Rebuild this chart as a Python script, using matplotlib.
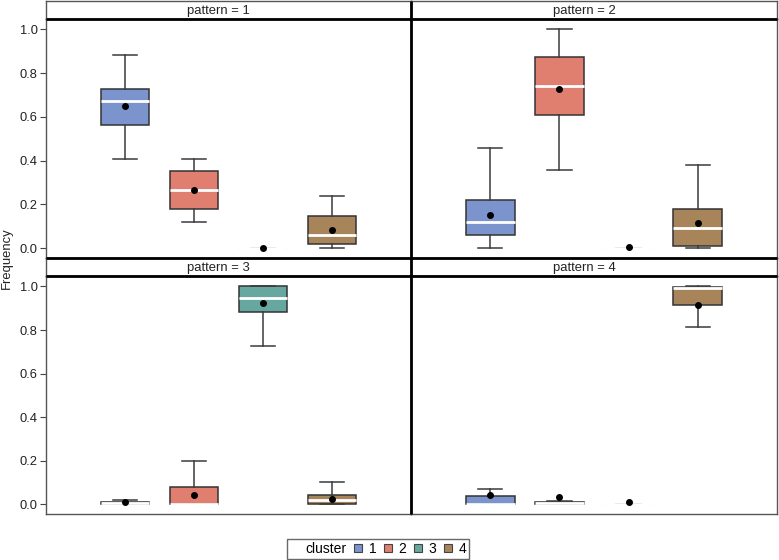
import matplotlib
matplotlib.use("Agg")
import matplotlib.pyplot as plt
from matplotlib.lines import Line2D

plt.rcParams['font.family'] = ['Liberation Sans', 'DejaVu Sans']

patterns = ["1", "2", "3", "4"]
clusters = ["1", "2", "3", "4"]

# per pattern (rows) x cluster (columns)
q1 = [
    [0.562, 0.179, 0.0, 0.018],
    [0.058, 0.611, 0.0, 0.009],
    [0.003, 0.002, 0.881, 0.0],
    [0.001, 0.0, 0.0, 0.917],
]
med = [
    [0.672, 0.265, 0.0, 0.060],
    [0.121, 0.741, 0.0, 0.093],
    [0.006, 0.003, 0.948, 0.021],
    [0.003, 0.004, 0.0, 0.995],
]
q3 = [
    [0.729, 0.354, 0.0, 0.147],
    [0.220, 0.873, 0.0, 0.179],
    [0.010, 0.079, 1.0, 0.043],
    [0.037, 0.010, 0.0, 0.998],
]
lo = [
    [0.409, 0.121, 0.0, 0.0],
    [0.0, 0.358, 0.0, 0.0],
    [0.0, 0.0, 0.728, 0.0],
    [0.0, 0.0, 0.0, 0.812],
]
hi = [
    [0.882, 0.409, 0.0, 0.239],
    [0.459, 1.0, 0.0, 0.381],
    [0.018, 0.200, 1.0, 0.102],
    [0.070, 0.016, 0.0, 1.0],
]
mean = [
    [0.652, 0.265, 0.0, 0.084],
    [0.153, 0.730, 0.005, 0.113],
    [0.008, 0.043, 0.925, 0.023],
    [0.044, 0.031, 0.012, 0.917],
]
yticks = [0.0, 0.2, 0.4, 0.6, 0.8, 1.0]

fills = ['#7c94cd', '#e07e6f', '#66a8a0', '#a8845a']
edge_c = '#333333'

W, H = 779, 560
fig = plt.figure(figsize=(W / 100, H / 100), dpi=100)

def fx(px):
    return px / W

def fy(py):
    return 1 - py / H

xl, xm, xr = 46, 411, 777
rows = [(1, 19, 258), (258, 276, 514)]  # strip top, panel top, panel bottom

for p in range(4):
    r, c = divmod(p, 2)
    st, pt, pb = rows[r]
    x0 = xl if c == 0 else xm
    x1 = xm if c == 0 else xr
    # strip
    sax = fig.add_axes([fx(x0), fy(pt), fx(x1 - x0), fy(st) - fy(pt)])
    sax.set_xticks([]); sax.set_yticks([])
    for s in sax.spines.values():
        s.set_color('#555555'); s.set_linewidth(1)
    sax.text(0.5 - 10 / (x1 - x0), 0.45, f"pattern = {patterns[p]}", ha='center', va='center',
             fontsize=9.4, color='#222222', transform=sax.transAxes)
    # panel
    ax = fig.add_axes([fx(x0), fy(pb), fx(x1 - x0), fy(pt) - fy(pb)])
    stats = []
    for k in range(4):
        stats.append(dict(med=med[p][k], q1=q1[p][k], q3=q3[p][k],
                          whislo=lo[p][k], whishi=hi[p][k], mean=mean[p][k],
                          fliers=[], label=clusters[k]))
    pos = [1, 2, 3, 4]
    bp = ax.bxp(stats, positions=pos, widths=0.7, capwidths=0.35,
                patch_artist=True, showmeans=True, showfliers=False,
                boxprops=dict(edgecolor=edge_c, linewidth=1.1),
                whiskerprops=dict(color='#3a3a3a', linewidth=1.1),
                capprops=dict(color='#3a3a3a', linewidth=1.1),
                medianprops=dict(color='white', linewidth=2),
                meanprops=dict(marker='o', markerfacecolor='black',
                               markeredgecolor='black', markersize=4))
    for k, b in enumerate(bp['boxes']):
        b.set_facecolor(fills[k])
        if q3[p][k] - q1[p][k] < 1e-6:
            b.set_edgecolor('#dddddd')
            b.set_linewidth(0.8)
    ax.set_xlim(-0.149, 5.149)
    ax.set_ylim(-0.045, 1.048)
    ax.set_xticks([])
    if c == 0:
        ax.set_yticks(yticks)
        ax.set_yticklabels([f"{v:.1f}" for v in yticks])
        ax.tick_params(axis='y', length=4, width=0.8, color='#444444',
                       labelsize=9.3, labelcolor='#222222', pad=2)
    else:
        ax.set_yticks([])
    for s in ax.spines.values():
        s.set_color('#555555'); s.set_linewidth(1)

# thick internal dividers
for (xa, ya, xb, yb) in [(xl, 19, xr, 19), (xl, 258, xr, 258), (xl, 276, xr, 276), (xm, 1, xm, 514)]:
    fig.add_artist(Line2D([fx(xa), fx(xb)], [fy(ya), fy(yb)], transform=fig.transFigure,
                          color='black', linewidth=2, solid_capstyle='butt'))

fig.text(fx(7), fy(258), "Frequency", rotation=90, ha='center', va='center',
         fontsize=9.4, color='#222222')

handles = [Line2D([], [], linestyle='none', marker=None)]
labels = ["cluster"]
for k in range(4):
    handles.append(Line2D([], [], linestyle='none', marker='s', markersize=6,
                          markerfacecolor=fills[k], markeredgecolor='#444444',
                          markeredgewidth=0.8))
    labels.append(clusters[k])
leg = fig.legend(handles, labels, ncol=5, loc='center',
                 bbox_to_anchor=(fx(378), fy(549)), fontsize=10,
                 frameon=True, fancybox=False, edgecolor='#444444',
                 handlelength=0.7, handletextpad=0.45, columnspacing=0.45,
                 borderpad=0.2, borderaxespad=0)
leg.get_frame().set_linewidth(1)
leg.legend_handles[0].set_visible(False)

fig.savefig("out.png", dpi=100)
